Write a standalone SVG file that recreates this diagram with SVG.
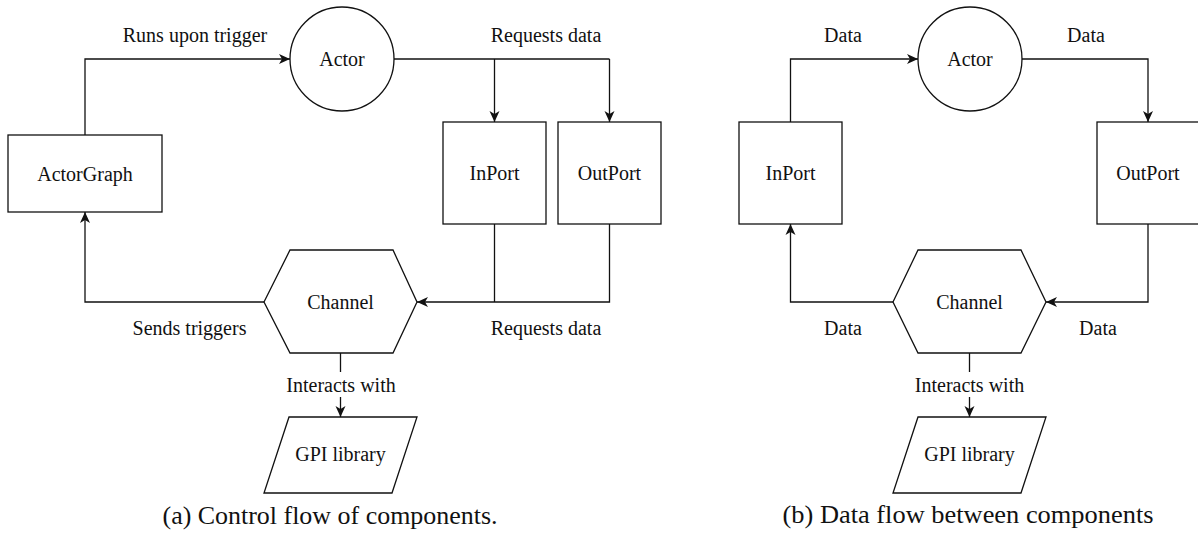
<svg xmlns="http://www.w3.org/2000/svg" width="1198" height="534" viewBox="0 0 1198 534">
  <style>
    .shape { fill: #fff; stroke: #111; stroke-width: 1.3; }
    .wire { fill: none; stroke: #111; stroke-width: 1.3; }
    .arrow { marker-end: url(#head); }
    .lbl { font-size: 20px; text-anchor: middle; fill: #111; }
    .cap { font-size: 25px; text-anchor: middle; fill: #111; }
  </style>
  <defs>
    <marker id="head" markerUnits="userSpaceOnUse" markerWidth="14" markerHeight="12" viewBox="-11 -6 12 12" refX="0" refY="0" orient="auto">
      <path d="M0,0 L-11,-5 L-8,0 L-11,5 Z" fill="#111"/>
    </marker>
  </defs>
  <rect width="1198" height="534" fill="#fff"/>

  <g font-family="Liberation Serif, Times New Roman, serif">
  <!-- (a) control flow -->
  <g id="a-connectors">
    <path class="wire arrow" d="M85,135 V59 H290"/>
    <path class="wire" d="M394,59 H609.5"/>
    <path class="wire arrow" d="M494.5,59 V122"/>
    <path class="wire arrow" d="M609.5,59 V122"/>
    <path class="wire arrow" d="M264,302 H85 V212"/>
    <path class="wire" d="M494.5,224 V302"/>
    <path class="wire arrow" d="M609.5,224 V302 H417"/>
    <path class="wire" d="M340.5,353 V372"/>
    <path class="wire arrow" d="M340.5,397 V417"/>
    <text class="lbl" x="195" y="42">Runs upon trigger</text>
    <text class="lbl" x="546" y="42">Requests data</text>
    <text class="lbl" x="189.5" y="335">Sends triggers</text>
    <text class="lbl" x="546" y="335">Requests data</text>
    <text class="lbl" x="341" y="392">Interacts with</text>
  </g>
  <g id="a-actor">
    <circle class="shape" cx="342" cy="59" r="52"/>
    <text class="lbl" x="342" y="66">Actor</text>
  </g>
  <g id="a-actorgraph">
    <rect class="shape" x="8" y="135" width="154" height="77"/>
    <text class="lbl" x="85" y="180.5">ActorGraph</text>
  </g>
  <g id="a-inport">
    <rect class="shape" x="443" y="122" width="103" height="102"/>
    <text class="lbl" x="494.5" y="180">InPort</text>
  </g>
  <g id="a-outport">
    <rect class="shape" x="558" y="122" width="103" height="102"/>
    <text class="lbl" x="609.5" y="180">OutPort</text>
  </g>
  <g id="a-channel">
    <polygon class="shape" points="264,302 290,250 393,250 417,302 393,353 290,353"/>
    <text class="lbl" x="340.5" y="309">Channel</text>
  </g>
  <g id="a-gpi">
    <polygon class="shape" points="289,417 417,417 392,493 264,493"/>
    <text class="lbl" x="340.5" y="461">GPI library</text>
  </g>
  <text class="cap" x="330" y="524" textLength="335" lengthAdjust="spacingAndGlyphs">(a) Control flow of components.</text>

  <!-- (b) data flow -->
  <g id="b-connectors">
    <path class="wire arrow" d="M790.5,122 V59 H918"/>
    <path class="wire arrow" d="M1022,59 H1148 V122"/>
    <path class="wire arrow" d="M1148,224 V302 H1046"/>
    <path class="wire arrow" d="M893,302 H790.5 V224"/>
    <path class="wire" d="M969.5,353 V372"/>
    <path class="wire arrow" d="M969.5,397 V417"/>
    <text class="lbl" x="843" y="42">Data</text>
    <text class="lbl" x="1086" y="42">Data</text>
    <text class="lbl" x="843" y="335">Data</text>
    <text class="lbl" x="1098" y="335">Data</text>
    <text class="lbl" x="969.5" y="392">Interacts with</text>
  </g>
  <g id="b-actor">
    <circle class="shape" cx="970" cy="59" r="52"/>
    <text class="lbl" x="970" y="66">Actor</text>
  </g>
  <g id="b-inport">
    <rect class="shape" x="739" y="122" width="103" height="102"/>
    <text class="lbl" x="790.5" y="180">InPort</text>
  </g>
  <g id="b-outport">
    <rect class="shape" x="1097" y="122" width="103" height="102"/>
    <text class="lbl" x="1148" y="180">OutPort</text>
  </g>
  <g id="b-channel">
    <polygon class="shape" points="893,302 918,250 1021,250 1046,302 1021,353 918,353"/>
    <text class="lbl" x="969.5" y="309">Channel</text>
  </g>
  <g id="b-gpi">
    <polygon class="shape" points="918,417 1046,417 1021,493 893,493"/>
    <text class="lbl" x="969.5" y="461">GPI library</text>
  </g>
  <text class="cap" x="968" y="523" textLength="371" lengthAdjust="spacingAndGlyphs">(b) Data flow between components</text>
  </g>
</svg>
